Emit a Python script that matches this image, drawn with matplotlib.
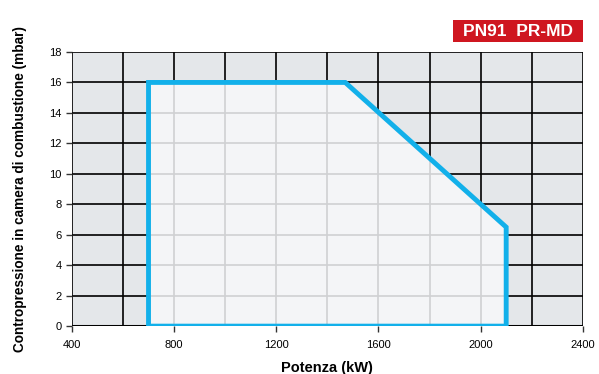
import matplotlib
matplotlib.use("Agg")
import matplotlib.pyplot as plt
from matplotlib.patches import Polygon, Rectangle

plt.rcParams['font.family'] = ['Liberation Sans', 'DejaVu Sans']

# working range of the burner
power_kw = [700, 700, 1470, 2100, 2100]
pressure_mbar = [0, 16, 16, 6.5, 0]

xticks = [400, 800, 1200, 1600, 2000, 2400]
yticks = [0, 2, 4, 6, 8, 10, 12, 14, 16, 18]
xgrid = list(range(400, 2401, 200))
title = "PN91  PR-MD"

fig = plt.figure(figsize=(5.99, 3.74), dpi=100)
ax = fig.add_axes([0.120, 0.128, 0.853, 0.733])
ax.set_facecolor('#e4e7ea')
ax.set_xlim(400, 2400)
ax.set_ylim(0, 18)

# black grid outside
for gx in xgrid:
    ax.axvline(gx, color='black', lw=1.2, zorder=1)
for gy in yticks:
    ax.axhline(gy, color='black', lw=1.2, zorder=1)

pts = list(zip(power_kw, pressure_mbar))
fill = Polygon(pts, closed=True, facecolor='#f4f5f7', edgecolor='none', zorder=2)
ax.add_patch(fill)

# light grid inside the range
for gx in xgrid:
    l = ax.axvline(gx, color='#cfd0d2', lw=1.2, zorder=3)
    l.set_clip_path(fill)
for gy in yticks:
    l = ax.axhline(gy, color='#cfd0d2', lw=1.2, zorder=3)
    l.set_clip_path(fill)

ax.add_patch(Polygon(pts, closed=True, facecolor='none', edgecolor='#12b0ea',
                     lw=3.5, joinstyle='miter', zorder=4))

ax.axhline(0, color='black', lw=2.2, zorder=3.5)

for s in ax.spines.values():
    s.set_visible(False)

ax.set_xticks(xticks)
ax.set_yticks(yticks)
ax.tick_params(axis='both', labelsize=8, color='#333333', length=4, width=1)
ax.tick_params(axis='x', pad=6)

ax.set_xlabel('Potenza (kW)', fontsize=10.5, fontweight='bold', labelpad=8)
ax.set_ylabel('Contropressione in camera di combustione (mbar)', fontsize=9.8,
              fontweight='bold', labelpad=16)

fig.patches.append(Rectangle((453 / 599, 1 - 42 / 374), 130 / 599, 22 / 374,
                             transform=fig.transFigure, facecolor='#cf1620',
                             edgecolor='none'))
fig.text(518 / 599, 1 - 31 / 374, title, color='white', fontsize=12.5,
         fontweight='bold', ha='center', va='center')

fig.savefig('out.png', dpi=100)
